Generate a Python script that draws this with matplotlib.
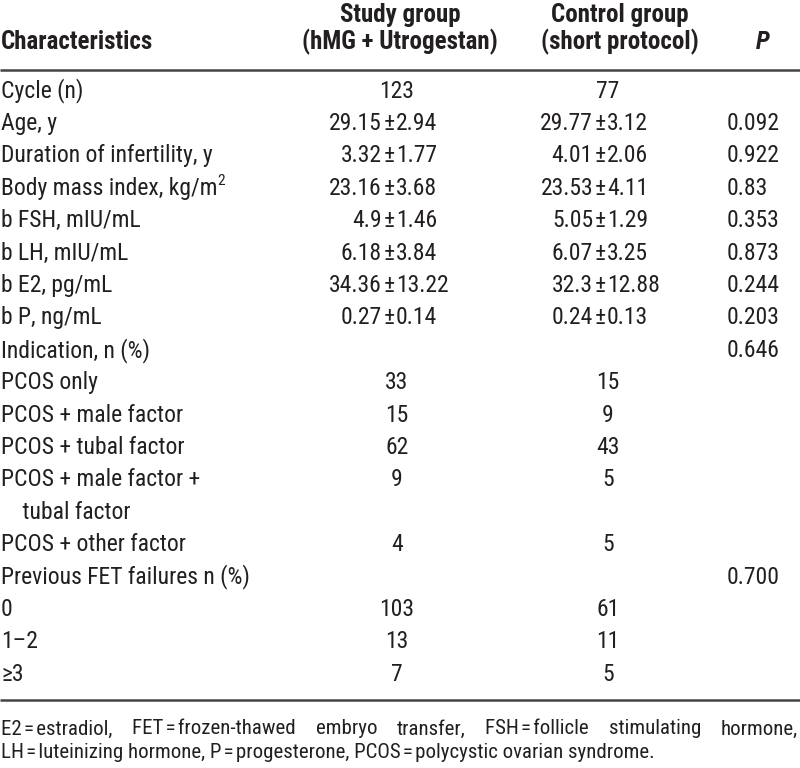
import matplotlib
matplotlib.use('Agg')
import matplotlib.pyplot as plt

FONT = ['Roboto Condensed', 'Archivo Narrow', 'DejaVu Sans']
plt.rcParams['font.family'] = FONT

# table content
header_first = 'Characteristics'
header_study = ['Study group', '(hMG + Utrogestan)']
header_ctrl = ['Control group', '(short protocol)']
header_p = 'P'
labels = ['Cycle (n)', 'Age, y', 'Duration of infertility, y', 'Body mass index, kg/m^2',
          'b FSH, mIU/mL', 'b LH, mIU/mL', 'b E2, pg/mL', 'b P, ng/mL', 'Indication, n (%)',
          'PCOS only', 'PCOS + male factor', 'PCOS + tubal factor', 'PCOS + male factor +',
          '    tubal factor', 'PCOS + other factor', 'Previous FET failures n (%)',
          '0', '1\u20132', '\u22653']
study = ['123', '29.15±2.94', '3.32±1.77', '23.16±3.68', '4.9±1.46', '6.18±3.84',
         '34.36±13.22', '0.27±0.14', '', '33', '15', '62', '9', '', '4', '', '103', '13', '7']
control = ['77', '29.77±3.12', '4.01±2.06', '23.53±4.11', '5.05±1.29', '6.07±3.25',
           '32.3±12.88', '0.24±0.13', '', '15', '9', '43', '5', '', '5', '', '61', '11', '5']
pvals = ['', '0.092', '0.922', '0.83', '0.353', '0.873', '0.244', '0.203', '0.646',
         '', '', '', '', '', '', '0.700', '', '', '']
hs = '\u200a'
footnote1 = [f'E2{hs}={hs}estradiol,', f'FET{hs}={hs}frozen-thawed', 'embryo', 'transfer,',
             f'FSH{hs}={hs}follicle', 'stimulating', 'hormone,']
footnote2 = (f'LH{hs}={hs}luteinizing hormone, P{hs}={hs}progesterone, '
             f'PCOS{hs}={hs}polycystic ovarian syndrome.')

W, H = 800, 768
fig = plt.figure(figsize=(8, 7.68), dpi=100)
ax = fig.add_axes([0, 0, 1, 1])
ax.set_xlim(0, W)
ax.set_ylim(H, 0)
ax.axis('off')

ink = '#231f20'
fs = 17
fsh = 18
x_lab, x_study, x_ctrl, x_p = 1, 389, 600, 727

# header
ax.text(x_lab, 42, header_first, fontsize=fsh, fontweight='bold', color=ink, va='center')
for j, line in enumerate(header_study):
    ax.text(400, 15 + 27 * j, line, fontsize=fsh, fontweight='bold', color=ink,
            va='center', ha='center')
for j, line in enumerate(header_ctrl):
    ax.text(620, 15 + 27 * j, line, fontsize=fsh, fontweight='bold', color=ink,
            va='center', ha='center')
ax.text(763, 42, header_p, fontsize=fsh, fontweight='bold', style='italic', color=ink,
        va='center', ha='center')
ax.plot([0, W], [70, 70], color='#444444', lw=1.8, solid_capstyle='butt')

fig.canvas.draw()
r = fig.canvas.get_renderer()


def value(x, y, s):
    if '±' in s:
        a, b = s.split('±')
        ax.text(x - 7, y, a, fontsize=fs, color=ink, va='center', ha='right')
        ax.text(x, y, '±', fontsize=fs, color=ink, va='center', ha='center')
        ax.text(x + 7, y, b, fontsize=fs, color=ink, va='center', ha='left')
    elif s:
        ax.text(x + 8, y, s, fontsize=fs, color=ink, va='center', ha='center')


y0, step = 91, 32.4
for i, lab in enumerate(labels):
    y = y0 + i * step
    if '^' in lab:
        base, sup = lab.split('^')
        t = ax.text(x_lab, y, base, fontsize=fs, color=ink, va='center')
        w = t.get_window_extent(r).width
        ax.text(x_lab + w, y - 7, sup, fontsize=fs * 0.65, color=ink, va='center')
    else:
        ax.text(x_lab, y, lab, fontsize=fs, color=ink, va='center')
    value(x_study, y, study[i])
    value(x_ctrl, y, control[i])
    if pvals[i]:
        ax.text(x_p, y, pvals[i], fontsize=fs, color=ink, va='center')

y_end = y0 + (len(labels) - 1) * step + 26
ax.plot([0, W], [y_end, y_end], color='#444444', lw=1.8, solid_capstyle='butt')

# footnote, first line justified
fs2 = 15
words = [ax.text(0, 729, w, fontsize=fs2, color=ink, va='center') for w in footnote1]
widths = [t.get_window_extent(r).width for t in words]
gap = (W - 3 - sum(widths)) / (len(words) - 1)
x = 1
for t, w in zip(words, widths):
    t.set_x(x)
    x += w + gap
ax.text(1, 753, footnote2, fontsize=fs2, color=ink, va='center')

fig.savefig('out.png', dpi=100, facecolor='white')
